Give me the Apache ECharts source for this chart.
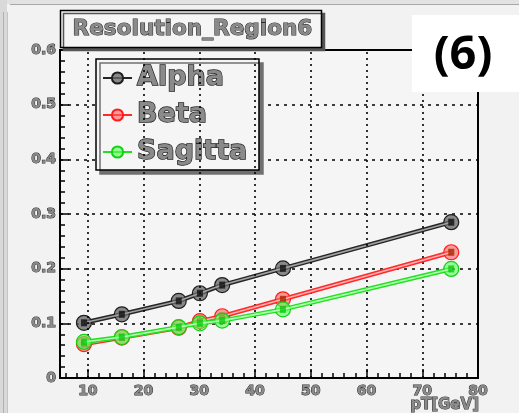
<!DOCTYPE html>
<html>
<head>
<meta charset="utf-8">
<script src="https://cdn.jsdelivr.net/npm/echarts@6/dist/echarts.min.js"></script>
<style>
  html, body { margin: 0; padding: 0; background: #f2f2f2; }
  #chart { width: 519px; height: 413px; }
</style>
</head>
<body>
<div id="chart"></div>
<script>
// Resolution vs pT for region 6
const pT      = [9.3, 16.1, 26.3, 30.1, 34.1, 45.0, 75.2];
const alpha   = [0.101, 0.1165, 0.141, 0.155, 0.170, 0.2005, 0.285];
const beta    = [0.062, 0.074, 0.092, 0.104, 0.113, 0.144, 0.230];
const sagitta = [0.066, 0.075, 0.093, 0.100, 0.105, 0.1255, 0.1995];

const xTickLabels = [10, 20, 30, 40, 50, 60, 70, 80];
const xGridLines  = [10, 20, 30, 40, 50, 60, 70];
const yTickLabels = ['0', '0.1', '0.2', '0.3', '0.4', '0.5', '0.6'];
const xTitle = 'pT[GeV]';

const X_MIN = 5, X_MAX = 80;
const xMinorTicks = [];
for (let v = 6; v < X_MAX; v += 2) if (v % 10 !== 0) xMinorTicks.push(v);

const FONT = 'DejaVu Sans';
const labelStyle = {
  fontFamily: FONT, fontWeight: 'bold', fontSize: 14,
  color: '#8a8a8a', textBorderColor: '#2a2a2a', textBorderWidth: 1
};

const pairs = ys => pT.map((x, i) => [x, ys[i]]);

const styles = {
  Alpha:   { dark: '#262626', light: '#a0a0a0', fill: 'rgba(105,105,105,0.78)', edge: '#1e1e1e', core: '#111111' },
  Beta:    { dark: '#ff2a2a', light: '#ffb0b0', fill: 'rgba(255,95,95,0.62)',   edge: '#ff1a1a', core: '#a82a00' },
  Sagitta: { dark: '#22e022', light: '#b0ffb0', fill: 'rgba(90,255,90,0.62)',   edge: '#12d012', core: '#10c810' }
};
const dataSets = { Alpha: alpha, Beta: beta, Sagitta: sagitta };

const series = [];
Object.keys(dataSets).forEach((name, k) => {
  const st = styles[name];
  const d = pairs(dataSets[name]);
  const main = {
    name: name, type: 'line', data: d, z: 3 + k * 3,
    symbol: 'circle', symbolSize: 15,
    lineStyle: { color: st.dark, width: 4.5 },
    itemStyle: { color: st.fill, borderColor: st.edge, borderWidth: 1.2 },
    emphasis: { disabled: true }, animation: false
  };
  if (k === 0) {
    main.markLine = {
      silent: true, symbol: ['none', 'none'], label: { show: false },
      lineStyle: { color: '#000', type: [2, 4], width: 1.6 },
      data: xGridLines.map(v => ({ xAxis: v })), animation: false
    };
  }
  series.push(main);
  series.push({
    type: 'line', data: d, z: 4 + k * 3, symbol: 'none', silent: true,
    lineStyle: { color: st.light, width: 1.6 }, animation: false
  });
  series.push({
    type: 'scatter', data: d, z: 5 + k * 3, symbol: 'rect', symbolSize: [6, 7],
    itemStyle: { color: st.core }, silent: true, animation: false
  });
});

const chart = echarts.init(document.getElementById('chart'), null, { renderer: 'canvas' });
chart.setOption({
  backgroundColor: '#f2f2f2',
  animation: false,
  grid: {
    left: 60, right: 41, top: 50, bottom: 35,
    containLabel: false, outerBoundsMode: 'none',
    show: true, backgroundColor: '#f5f5f5', borderColor: '#000', borderWidth: 2
  },
  xAxis: [{
    type: 'value', min: X_MIN, max: X_MAX, position: 'bottom',
    axisLine: { show: true, onZero: false, lineStyle: { color: '#000', width: 2 } },
    axisTick: { show: true, inside: true, length: 9, customValues: xTickLabels, lineStyle: { color: '#000', width: 1.5 } },
    axisLabel: { show: true, margin: 6, customValues: xTickLabels, ...labelStyle },
    splitLine: { show: false }
  }, {
    type: 'value', min: X_MIN, max: X_MAX, position: 'bottom',
    axisLine: { show: false },
    axisTick: { show: true, inside: true, length: 5, customValues: xMinorTicks, lineStyle: { color: '#000', width: 1.5 } },
    axisLabel: { show: false },
    splitLine: { show: false }
  }],
  yAxis: {
    type: 'value', min: 0, max: 0.6, interval: 0.1,
    axisLine: { show: true, lineStyle: { color: '#000', width: 2 } },
    axisTick: { show: true, inside: true, length: 9, lineStyle: { color: '#000', width: 1.5 } },
    minorTick: { show: true, splitNumber: 5, length: 5, lineStyle: { color: '#000', width: 1.5 } },
    axisLabel: {
      margin: 4, ...labelStyle,
      formatter: v => yTickLabels[Math.round(v * 10)]
    },
    splitLine: { show: true, lineStyle: { color: '#000', type: [3, 5], width: 1.6 } }
  },
  legend: {
    orient: 'vertical', left: 96, top: 59,
    data: ['Alpha', 'Beta', 'Sagitta'],
    itemWidth: 29, itemHeight: 14, itemGap: 1, itemTextGap: 6,
    padding: [1, 11, 0, 6],
    backgroundColor: '#f5f5f5', borderColor: '#000', borderWidth: 1.5,
    shadowColor: '#707070', shadowBlur: 0, shadowOffsetX: 4, shadowOffsetY: 4,
    selectedMode: false,
    textStyle: {
      fontFamily: FONT, fontWeight: 'bold', fontSize: 27, lineHeight: 36,
      color: '#8a8a8a', textBorderColor: '#222', textBorderWidth: 1.4
    }
  },
  graphic: [
    // window chrome along the top and left edges
    { type: 'rect', shape: { x: 0, y: 0, width: 519, height: 4 }, style: { fill: '#e2e2e2' }, silent: true },
    { type: 'line', shape: { x1: 10, y1: 4.5, x2: 519, y2: 4.5 }, style: { stroke: '#a8a8a8', lineWidth: 1 }, silent: true },
    { type: 'rect', shape: { x: 0, y: 0, width: 7, height: 413 }, style: { fill: '#d9d9d9' }, silent: true },
    { type: 'line', shape: { x1: 3.5, y1: 12, x2: 3.5, y2: 413 }, style: { stroke: '#b0b0b0', lineWidth: 1 }, silent: true },
    { type: 'line', shape: { x1: 7.5, y1: 12, x2: 7.5, y2: 413 }, style: { stroke: '#c4c4c4', lineWidth: 1 }, silent: true },
    // x-axis title
    {
      type: 'text', z: 21, x: 479, y: 398,
      style: {
        text: xTitle, fontFamily: FONT, fontWeight: 'bold', fontSize: 15,
        fill: '#8a8a8a', stroke: '#2a2a2a', lineWidth: 1, align: 'right', verticalAlign: 'top'
      }
    },
    // title box
    {
      type: 'rect', z: 20,
      shape: { x: 60.5, y: 10.5, width: 261, height: 37 },
      style: { fill: '#f5f5f5', stroke: '#000', lineWidth: 1.5, shadowColor: '#555', shadowOffsetX: 3, shadowOffsetY: 3, shadowBlur: 0 }
    },
    {
      type: 'text', z: 21, left: 72, top: 18,
      style: {
        text: 'Resolution_Region6', fontFamily: FONT, fontWeight: 'bold', fontSize: 21.6,
        fill: '#8a8a8a', stroke: '#2a2a2a', lineWidth: 1.1
      }
    },
    // region marker
    { type: 'rect', z: 20, shape: { x: 412, y: 15, width: 107, height: 77 }, style: { fill: '#ffffff' } },
    {
      type: 'text', z: 21, x: 463, y: 56,
      style: {
        text: '(6)', fontFamily: 'Noto Sans', fontWeight: 'bold', fontSize: 47,
        fill: '#000', align: 'center', verticalAlign: 'middle'
      }
    }
  ],
  series: series
});
</script>
</body>
</html>
